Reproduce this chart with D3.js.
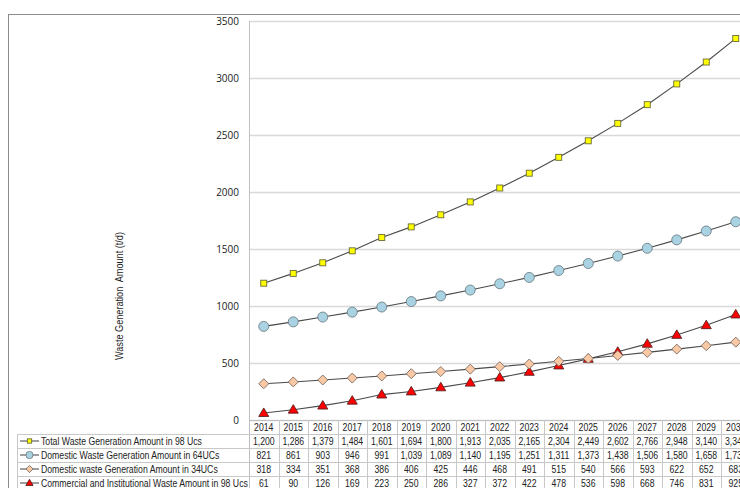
<!DOCTYPE html>
<html>
<head>
<meta charset="utf-8">
<script src="https://cdn.jsdelivr.net/npm/d3@7"></script>
<style>
  html, body { margin: 0; padding: 0; background: #fff; overflow: hidden; }
  svg { display: block; font-family: "Liberation Sans", Arial, sans-serif; }
</style>
</head>
<body>
<svg id="chart" width="740" height="488"></svg>
<script>
// ---- data ----
const years = [2014, 2015, 2016, 2017, 2018, 2019, 2020, 2021, 2022, 2023, 2024, 2025, 2026, 2027, 2028, 2029, 2030];
const totalWaste98 = [1200, 1286, 1379, 1484, 1601, 1694, 1800, 1913, 2035, 2165, 2304, 2449, 2602, 2766, 2948, 3140, 3347];
const domestic64 = [821, 861, 903, 946, 991, 1039, 1089, 1140, 1195, 1251, 1311, 1373, 1438, 1506, 1580, 1658, 1739];
const domestic34 = [318, 334, 351, 368, 386, 406, 425, 446, 468, 491, 515, 540, 566, 593, 622, 652, 683];
const commercial98 = [61, 90, 126, 169, 223, 250, 286, 327, 372, 422, 478, 536, 598, 668, 746, 831, 925];
const seriesNames = [
  "Total Waste Generation Amount in 98 Ucs",
  "Domestic Waste Generation Amount in 64UCs",
  "Domestic waste Generation Amount in 34UCs",
  "Commercial and Institutional Waste Amount in 98 Ucs"
];
const yTicks = [0, 500, 1000, 1500, 2000, 2500, 3000, 3500];
const yTitle = "Waste Generation  Amount (t/d)";

const series = [
  { name: seriesNames[0], values: totalWaste98, marker: "square", fill: "#ffff00" },
  { name: seriesNames[1], values: domestic64, marker: "circle", fill: "#a9d3e3" },
  { name: seriesNames[2], values: domestic34, marker: "diamond", fill: "#f9c9a6" },
  { name: seriesNames[3], values: commercial98, marker: "triangle", fill: "#ff0000" }
];

// ---- layout ----
const plotLeft = 249, plotTop = 21, plotBottom = 420;
const band = 29.5;
const rowH = 14;
const legendLeft = 17;
const condense = 0.87;

const svg = d3.select("#chart");

const x = d3.scaleBand().domain(years).range([plotLeft, plotLeft + band * years.length]).padding(0);
const y = d3.scaleLinear().domain([0, 3500]).range([plotBottom, plotTop]);
const xc = d => x(d) + x.bandwidth() / 2;

// outer frame
svg.append("line").attr("x1", 8).attr("x2", 740).attr("y1", 14.5).attr("y2", 14.5)
  .attr("stroke", "#8c8c8c").attr("stroke-width", 1);
svg.append("line").attr("x1", 8.5).attr("x2", 8.5).attr("y1", 14).attr("y2", 488)
  .attr("stroke", "#8c8c8c").attr("stroke-width", 1);

// gridlines + y labels
const yAxis = svg.append("g").attr("transform", `translate(${plotLeft},0)`)
  .call(d3.axisLeft(y).tickValues(yTicks).tickSize(-(740 - plotLeft)).tickPadding(10).tickFormat(d3.format("d")));
yAxis.select(".domain").remove();
yAxis.selectAll(".tick line").attr("stroke", "#d9d9d9").attr("stroke-width", 1.3);
yAxis.selectAll(".tick text").attr("fill", "#222").attr("font-size", "10px")
  .attr("font-family", "'Open Sans', 'Liberation Sans', Arial, sans-serif");
// left axis line
svg.append("line").attr("x1", plotLeft + 0.5).attr("x2", plotLeft + 0.5).attr("y1", plotTop).attr("y2", 488)
  .attr("stroke", "#bfbfbf").attr("stroke-width", 1);

// y title
svg.append("text")
  .attr("transform", `translate(123,296) rotate(-90) scale(${condense},1)`)
  .attr("text-anchor", "middle").attr("font-size", "10.5px").attr("fill", "#222")
  .style("white-space", "pre")
  .text(yTitle);

// ---- data table ----
const tableG = svg.append("g");
const gridColor = "#c8c8c8";
// horizontal lines
[0, 1, 2, 3, 4].forEach(i => {
  const yy = plotBottom + i * rowH + 0.5;
  tableG.append("line")
    .attr("x1", i === 0 ? plotLeft : legendLeft).attr("x2", 740)
    .attr("y1", yy).attr("y2", yy)
    .attr("stroke", i === 0 ? "#bfbfbf" : gridColor).attr("stroke-width", 1);
});
// vertical lines between columns
years.forEach(yr => {
  const xx = Math.round(x(yr) + band) + 0.5;
  tableG.append("line").attr("x1", xx).attr("x2", xx).attr("y1", plotBottom).attr("y2", 488)
    .attr("stroke", gridColor).attr("stroke-width", 1);
});
// legend column left border
tableG.append("line").attr("x1", legendLeft + 0.5).attr("x2", legendLeft + 0.5)
  .attr("y1", plotBottom + rowH).attr("y2", 488).attr("stroke", gridColor);

// year headers
tableG.selectAll("text.year").data(years).join("text").attr("class", "year")
  .attr("transform", d => `translate(${xc(d)},${plotBottom + rowH / 2 + 3.5}) scale(${condense},1)`)
  .attr("text-anchor", "middle").attr("font-size", "10px").attr("fill", "#222")
  .text(d => d);

const fmt = d3.format(",");
series.forEach((s, i) => {
  const rowMid = plotBottom + rowH * (i + 1) + rowH / 2;
  tableG.append("g").selectAll("text").data(s.values).join("text")
    .attr("transform", (d, j) => `translate(${xc(years[j])},${rowMid + 3.5}) scale(${condense},1)`)
    .attr("text-anchor", "middle").attr("font-size", "10px").attr("fill", "#222")
    .text(d => fmt(d));
  // legend key
  const lg = tableG.append("g");
  lg.append("line").attr("x1", 20).attr("x2", 39).attr("y1", rowMid).attr("y2", rowMid)
    .attr("stroke", "#404040").attr("stroke-width", 1);
  drawMarker(lg, s, 29.5, rowMid, 0.72);
  // legend text clipped to column
  lg.append("text")
    .attr("transform", `translate(41,${rowMid + 3.5}) scale(${condense},1)`)
    .attr("font-size", "10px").attr("fill", "#222")
    .attr("clip-path", "url(#legclip)")
    .text(s.name);
});
svg.append("defs").append("clipPath").attr("id", "legclip")
  .attr("clipPathUnits", "userSpaceOnUse")
  .append("rect").attr("x", 0).attr("y", -20).attr("width", (plotLeft - 41.5) / condense).attr("height", 40);

// ---- lines and markers ----
const line = d3.line().x((d, j) => xc(years[j])).y(d => y(d));
function drawMarker(g, s, cx, cy, k) {
  k = k || 1;
  let m;
  if (s.marker === "square") {
    const a = 6 * k;
    m = g.append("rect").attr("x", cx - a / 2).attr("y", cy - a / 2).attr("width", a).attr("height", a);
    m.attr("stroke", "#6b6b3a");
  } else if (s.marker === "circle") {
    m = g.append("circle").attr("cx", cx).attr("cy", cy).attr("r", 5 * k);
    m.attr("stroke", "#6f7f86");
  } else if (s.marker === "diamond") {
    const r = 5 * k;
    m = g.append("path").attr("d", `M${cx},${cy - r}L${cx + r},${cy}L${cx},${cy + r}L${cx - r},${cy}Z`);
    m.attr("stroke", "#7a6a60");
  } else {
    const w = 5 * k, h = 8.5 * k;
    m = g.append("path").attr("d", `M${cx},${cy - h * 0.6}L${cx + w},${cy + h * 0.4}L${cx - w},${cy + h * 0.4}Z`);
    m.attr("stroke", "#5a2020");
  }
  m.attr("fill", s.fill).attr("stroke-width", 0.9);
}

const plotG = svg.append("g");
series.slice().reverse().forEach(s => {
  plotG.append("path").datum(s.values).attr("d", line)
    .attr("fill", "none").attr("stroke", "#4a4a4a").attr("stroke-width", 1.1);
});
series.slice().reverse().forEach(s => {
  s.values.forEach((v, j) => drawMarker(plotG, s, xc(years[j]), y(v), 1));
});
</script>
</body>
</html>
